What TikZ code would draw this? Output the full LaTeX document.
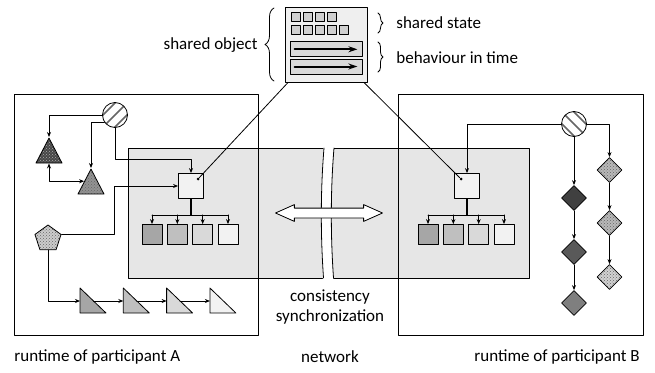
\documentclass[tikz,border=0pt]{standalone}
\usepackage{fontspec}
\setmainfont{Carlito}
\usetikzlibrary{shapes.geometric,shapes.arrows,patterns,arrows.meta,decorations.pathreplacing,calc}

\definecolor{netgray}{HTML}{E6E6E6}
\definecolor{objfill}{HTML}{EFEFEF}
\definecolor{cellgray}{HTML}{D0D0D0}
\definecolor{bargray}{HTML}{D9D9D9}
\definecolor{kidA}{HTML}{A6A6A6}
\definecolor{kidB}{HTML}{BFBFBF}
\definecolor{kidC}{HTML}{D9D9D9}
\definecolor{kidD}{HTML}{F2F2F2}
\definecolor{dmA}{HTML}{404040}
\definecolor{dmB}{HTML}{595959}
\definecolor{dmC}{HTML}{7F7F7F}

\tikzset{
  speckle/.style={preaction={fill=#1},pattern=crosshatch dots,pattern color=black!60},
  hatch/.style={draw=gray!80!black,line width=1.6pt},
  sqbox/.style={draw,fill=kidD,minimum size=25pt},
  kid/.style={draw,minimum size=20pt},
  tri/.style={draw,isosceles triangle,isosceles triangle stretches,shape border rotate=90,
    minimum width=26pt,minimum height=25pt,anchor=apex},
  dm/.style={draw,diamond,minimum width=25pt,minimum height=25pt},
  knot/.style={draw,circle,fill=white,minimum size=25pt},
  dot/.style={fill,circle,minimum size=3pt},
  flow/.style={line width=2pt,-{Stealth[length=9pt,width=6pt]}}
}

\begin{document}
\begin{tikzpicture}[x=1pt,y=-1pt,line cap=round,line join=round,line width=0.8pt,
  >={Stealth[length=5pt,width=4pt]},font=\fontsize{17}{20}\selectfont,every node/.style={inner sep=0pt}]
  \useasboundingbox (0,0) rectangle (655,372);

  % network between the two runtimes
  \node[draw,fill=netgray,minimum width=401pt,minimum height=130pt] (net) at (328.5,213) {};
  \fill[white] (323.5,146) .. controls (320,190) and (320,235) .. (323,280)
    -- (333.5,280) .. controls (330.5,235) and (330.5,190) .. (334,146) -- cycle;
  \draw (324,148) .. controls (320.5,190) and (320.5,235) .. (323.5,278);
  \draw (334,148) .. controls (330.5,190) and (330.5,235) .. (333.5,278);
  \node[double arrow,draw,fill=white,minimum height=107pt,inner sep=4.5pt,
    double arrow head extend=3.5pt,double arrow tip angle=48] (sync) at (329,213) {};

  \node[draw,line width=1pt,minimum width=244pt,minimum height=241pt] (rtA) at (136,214.5) {};
  \node[draw,line width=1pt,minimum width=245pt,minimum height=241pt] (rtB) at (520.5,214.5) {};

  % shared object
  \node[draw,fill=objfill,minimum width=82pt,minimum height=75pt] (obj) at (326,44.5) {};
  \foreach \i in {0,...,3} \draw[fill=cellgray] ({291+12*\i},12) rectangle ++(9,9);
  \foreach \i in {0,...,4} \draw[fill=cellgray] ({291+12*\i},25) rectangle ++(9,9);
  \node[draw,fill=bargray,minimum width=72pt,minimum height=15pt] (barA) at (326,49.3) {};
  \node[draw,fill=bargray,minimum width=72pt,minimum height=15pt] (barB) at (326,66.5) {};
  \draw[flow] ($(barA.west)+(5,0)$) -- ($(barA.east)+(-5,0)$);
  \draw[flow] ($(barB.west)+(5,0)$) -- ($(barB.east)+(-5,0)$);
  \draw[decorate,decoration={brace,amplitude=9pt}] (274,81) -- (274,8);
  \draw[decorate,decoration={brace,amplitude=5pt}] (378,13) -- (378,33);
  \draw[decorate,decoration={brace,amplitude=5pt}] (378,42) -- (378,72);
  \node[anchor=east] (lblobj) at (258,45) {shared object};
  \node[anchor=west] (lblstate) at (396,23) {shared state};
  \node[anchor=west] (lbltime) at (396,58) {behaviour in time};

  % participant A
  \node[knot,path picture={\foreach \a/\b in {-6/6,0/0,6/-6}
    \draw[hatch] (path picture bounding box.center) ++(\a pt,\b pt) +(-16pt,-16pt) -- +(16pt,16pt);}] (circA) at (115,115) {};
  \node[tri,speckle=black!72,pattern color=gray!65] (triA) at (49,137) {};
  \node[tri,speckle=gray!85] (triB) at (91,168) {};
  \node[draw,regular polygon,regular polygon sides=5,minimum size=27.4pt,speckle=gray!40] (pent) at (48,238.7) {};
  \node[sqbox] (sqA) at (191,186) {};
  \node[dot] (dotA) at (198,179) {};
  \foreach \k/\c in {1/kidA,2/kidB,3/kidC,4/kidD}
    \node[kid,fill=\c] (kA\k) at ({152+25.33*(\k-1)},234.5) {};
  \foreach \i/\c in {0/kidA,1/kidB,2/kidC,3/kidD} {
    \draw[fill=\c] ({80+43.3*\i},288) -- ++(0,25) -- ++(26,0) -- cycle;
    \coordinate (tw\i) at ({80+43.3*\i},301);
    \coordinate (th\i) at ({93.5+43.3*\i},301);
  }
  \draw[->] (circA.west) -| (triA.apex);
  \draw[->] (circA.215) -| (triB.apex);
  \draw[->] (circA.south) -- ++(0,31) -| (sqA.north);
  \draw[<->] (triA.lower side) |- (triB.left side);
  \draw[->] (pent.corner 5) -- ++(53,0) |- (sqA.west);
  \draw[->] (pent.south) |- (tw0);
  \foreach \i [count=\j] in {0,1,2} \draw[->] (th\i) -- (tw\j);
  \draw[line width=1.6pt] (sqA.south) -- ++(0,16) coordinate (forkA);
  \draw (forkA -| kA1) -- (forkA -| kA4);
  \foreach \k in {1,...,4} \draw[->] (forkA -| kA\k) -- (kA\k.north);

  % participant B
  \node[knot,path picture={\foreach \a/\b in {-6/-6,0/0,6/6}
    \draw[hatch] (path picture bounding box.center) ++(\a pt,\b pt) +(-16pt,16pt) -- +(16pt,-16pt);}] (circB) at (574,124) {};
  \node[sqbox] (sqB) at (467,186) {};
  \node[dot] (dotB) at (461,179) {};
  \foreach \k/\c in {1/kidA,2/kidB,3/kidC,4/kidD}
    \node[kid,fill=\c] (kB\k) at ({428+25.33*(\k-1)},234.5) {};
  \node[dm,fill=dmA] (dgA) at (574,198) {};
  \node[dm,fill=dmB] (dgB) at (574,252) {};
  \node[dm,fill=dmC] (dgC) at (574,303) {};
  \node[dm,speckle=gray!55] (dsA) at (609.5,170) {};
  \node[dm,speckle=gray!55] (dsB) at (609.5,223) {};
  \node[dm,speckle=gray!35] (dsC) at (609.5,277) {};
  \draw[->] (circB.west) -| (sqB.north);
  \draw[->] (circB.south) -- (dgA.north);
  \draw[->] (dgA.south) -- (dgB.north);
  \draw[->] (dgB.south) -- (dgC.north);
  \draw[->] (circB.east) -| (dsA.north);
  \draw[->] (dsA.south) -- (dsB.north);
  \draw[->] (dsB.south) -- (dsC.north);
  \draw[line width=1.6pt] (sqB.south) -- ++(0,16) coordinate (forkB);
  \draw (forkB -| kB1) -- (forkB -| kB4);
  \foreach \k in {1,...,4} \draw[->] (forkB -| kB\k) -- (kB\k.north);

  \draw (obj.225) -- (dotA);
  \draw (obj.-45) -- (dotB);

  \node[align=center] (lblsync) at (330,307) {consistency\\synchronization};
  \node[anchor=west] (lblA) at (14,357) {runtime of participant A};
  \node (lblnet) at (330,357) {network};
  \node[anchor=east] (lblB) at (640,357) {runtime of participant B};
\end{tikzpicture}
\end{document}
